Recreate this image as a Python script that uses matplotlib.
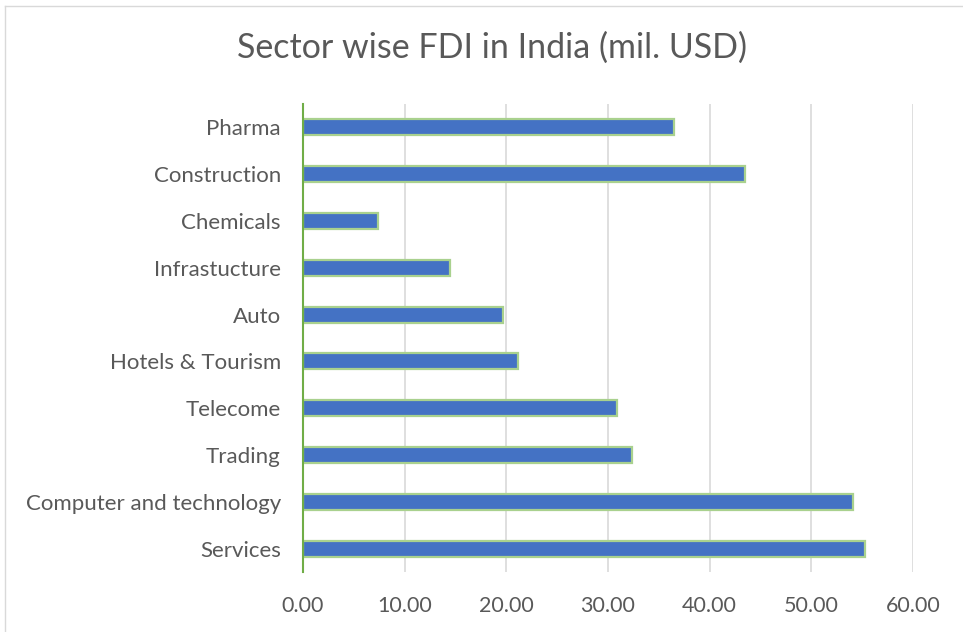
import matplotlib.pyplot as plt
from matplotlib.lines import Line2D

# sector-wise FDI values, bottom to top
sectors = ["Services", "Computer and technology", "Trading", "Telecome",
           "Hotels & Tourism", "Auto", "Infrastucture", "Chemicals",
           "Construction", "Pharma"]
fdi = [55.3, 54.1, 32.4, 30.9, 21.1, 19.7, 14.5, 7.4, 43.5, 36.5]
xticks = [0, 10, 20, 30, 40, 50, 60]

text_grey = "#595959"
plt.rcParams["font.family"] = ["Lato", "DejaVu Sans"]

fig = plt.figure(figsize=(9.63, 6.32), dpi=100)
ax = fig.add_axes([303 / 963, 1 - 572 / 632, 610 / 963, 468 / 632])

ax.barh(range(len(sectors)), fdi, height=0.34, color="#4472C4",
        edgecolor="#A9D18E", linewidth=1.6, zorder=3)

ax.set_xlim(0, 60)
ax.set_ylim(-0.5, len(sectors) - 0.5)
ax.set_xticks(xticks)
ax.set_xticklabels(["{:.2f}".format(x) for x in xticks])
ax.set_yticks(range(len(sectors)))
ax.set_yticklabels(sectors)
ax.tick_params(length=0, labelcolor=text_grey)
ax.tick_params(axis="x", pad=17, labelsize=15.5)
ax.tick_params(axis="y", pad=16, labelsize=16)

ax.grid(axis="x", color="#D9D9D9", linewidth=1.2, zorder=0)
for side in ["top", "right", "bottom"]:
    ax.spines[side].set_visible(False)
ax.spines["left"].set_color("#70AD47")
ax.spines["left"].set_linewidth(1.5)
ax.spines["left"].set_zorder(4)

fig.text(492 / 963, 1 - 48 / 632, "Sector wise FDI in India (mil. USD)",
         ha="center", va="center", fontsize=24.5, color=text_grey)

# thin chart-area frame along the top and left
fig.add_artist(Line2D([5 / 963, 1], [1 - 6 / 632, 1 - 6 / 632],
                      color="#D9D9D9", linewidth=1))
fig.add_artist(Line2D([5 / 963, 5 / 963], [0, 1 - 6 / 632],
                      color="#D9D9D9", linewidth=1))

fig.savefig("out.png", dpi=100)
